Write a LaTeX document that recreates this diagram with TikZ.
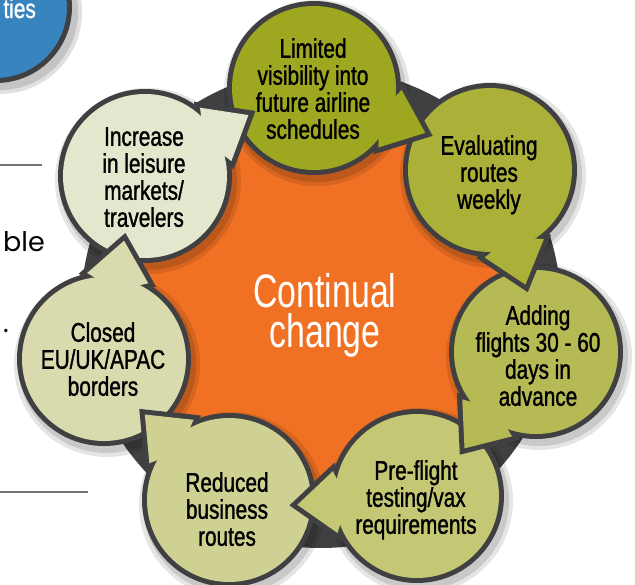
\documentclass[tikz,border=0pt]{standalone}
\usepackage{fontspec}
\setmainfont{Liberation Sans}
\newfontfamily\cfont{Liberation Sans}[FakeStretch=0.77,FakeBold=1.2]
\newfontfamily\bigfont{Liberation Sans}[FakeStretch=0.72]
\newfontfamily\geofont{Poppins}
\usetikzlibrary{calc}
\definecolor{dk}{RGB}{64,64,66}
\definecolor{orangeC}{RGB}{240,113,35}
\definecolor{blueC}{RGB}{56,132,190}
\definecolor{col1}{RGB}{158,167,32}
\definecolor{col2}{RGB}{170,176,56}
\definecolor{col3}{RGB}{182,186,84}
\definecolor{col4}{RGB}{196,199,116}
\definecolor{col5}{RGB}{206,209,146}
\definecolor{col6}{RGB}{217,219,174}
\definecolor{col7}{RGB}{228,230,205}
\tikzset{
  lbl/.style={align=center, inner sep=0pt, anchor=north, text=black,
    font=\cfont\fontsize{27}{27}\selectfont},
  rulegray/.style={draw=black!55, line width=1.2pt}
}
\begin{document}
\begin{tikzpicture}[x=1pt,y=-1pt]
\useasboundingbox (0,0) rectangle (635,585);
\clip (0,0) rectangle (635,585);
\fill[white] (0,0) rectangle (635,585);

% left slide fragments
\draw[rulegray] (0,165) -- (42,165);
\draw[rulegray] (0,492) -- (88,492);
\node[anchor=base east, inner sep=0pt, font=\geofont\fontsize{27}{27}\selectfont] (ble) at (45,252) {ble};
\node[anchor=base east, inner sep=0pt, font=\geofont\fontsize{27}{27}\selectfont] (dot) at (9,333) {.};

% blue circle
\coordinate (bc) at (-4,7);
\fill[black,opacity=.12] ($(bc)+(4pt,-5pt)$) circle (82pt);
\fill[black,opacity=.12] ($(bc)+(4pt,-5pt)$) circle (78pt);
\draw[line width=5pt, draw=dk, fill=blueC] (bc) circle (73.5pt);
\node[anchor=base east, inner sep=0pt, text=white, font=\cfont\fontsize{27}{27}\selectfont] (ties) at (36,18) {ties};

% circle centres
\coordinate (C) at (321,308);
\coordinate (c1) at (314,88);
\coordinate (c2) at (490,170);
\coordinate (c3) at (536,352);
\coordinate (c4) at (417,496);
\coordinate (c5) at (229,500);
\coordinate (c6) at (104,359);
\coordinate (c7) at (145,176);

% central ring
\fill[dk] (C) circle (240pt);
\fill[orangeC] (C) circle (207pt);

% shadows
\foreach \i in {1,...,7}{
  \fill[black,opacity=.10] ($(c\i)+(3pt,-5pt)$) circle (93pt);
  \fill[black,opacity=.12] ($(c\i)+(3pt,-5pt)$) circle (89pt);
}

% circles with their arrow heads (union outline)
\foreach \i/\j in {1/2,2/3,3/4,4/5,5/6,6/7,7/1}{
  \draw[dk, line width=10pt] (c\i) circle (82pt);
  \draw[dk, line width=10pt, line join=miter]
    let \p1=($(c\j)-(c\i)$), \n1={atan2(\y1,\x1)+3} in
    ($(c\i)+(\n1:82pt)+({\n1+90}:31pt)$) -- ($(c\i)+(\n1:120pt)$) --
    ($(c\i)+(\n1:82pt)+({\n1-90}:31pt)$) -- ($(c\i)+(\n1:70pt)$) -- cycle;
  \fill[col\i] (c\i) circle (82pt);
  \fill[col\i]
    let \p1=($(c\j)-(c\i)$), \n1={atan2(\y1,\x1)+3} in
    ($(c\i)+(\n1:82pt)+({\n1+90}:31pt)$) -- ($(c\i)+(\n1:120pt)$) --
    ($(c\i)+(\n1:82pt)+({\n1-90}:31pt)$) -- ($(c\i)+(\n1:70pt)$) -- cycle;
}
% heads again on top of the following circle
\foreach \i/\j in {1/2,2/3,3/4,4/5,5/6,6/7,7/1}{
  \draw[dk, line width=10pt, line join=miter]
    let \p1=($(c\j)-(c\i)$), \n1={atan2(\y1,\x1)+3} in
    ($(c\i)+(\n1:82pt)+({\n1+90}:31pt)$) -- ($(c\i)+(\n1:120pt)$) --
    ($(c\i)+(\n1:82pt)+({\n1-90}:31pt)$);
  \fill[col\i]
    let \p1=($(c\j)-(c\i)$), \n1={atan2(\y1,\x1)+3} in
    ($(c\i)+(\n1:82pt)+({\n1+90}:31pt)$) -- ($(c\i)+(\n1:120pt)$) --
    ($(c\i)+(\n1:82pt)+({\n1-90}:31pt)$) -- ($(c\i)+(\n1:70pt)$) -- cycle;
}

% texts
\node[inner sep=0pt, anchor=base, text=white,
      font=\bigfont\fontsize{47}{47}\selectfont] (ct1) at (325,308) {Continual};
\node[inner sep=0pt, anchor=base, text=white,
      font=\bigfont\fontsize{47}{47}\selectfont] (ct2) at (325,348) {change};
\node[lbl] (t1) at (313,38) {Limited\\visibility into\\future airline\\schedules};
\node[lbl] (t2) at (489,135) {Evaluating\\routes\\weekly};
\node[lbl] (t3) at (538,305) {Adding\\flights 30 - 60\\days in\\advance};
\node[lbl] (t4) at (416,460) {Pre-flight\\testing/vax\\requirements};
\node[lbl] (t5) at (227,472) {Reduced\\business\\routes};
\node[lbl] (t6) at (103,322) {Closed\\EU/UK/APAC\\borders};
\node[lbl] (t7) at (144,127) {Increase\\in leisure\\markets/\\travelers};
\end{tikzpicture}
\end{document}
